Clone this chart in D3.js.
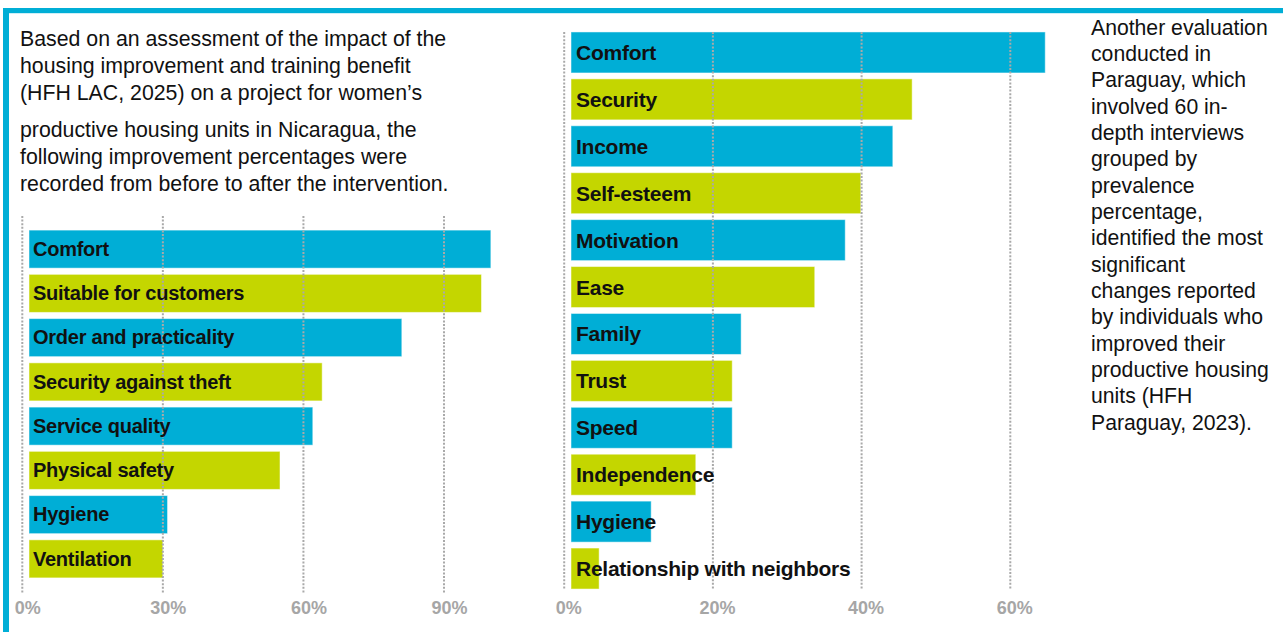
<!DOCTYPE html>
<html>
<head>
<meta charset="utf-8">
<script src="https://cdn.jsdelivr.net/npm/d3@7"></script>
<style>
  html, body { margin: 0; padding: 0; background: #fff; }
  svg { display: block; }
</style>
</head>
<body>
<svg id="chart" width="1283" height="632"></svg>
<script>
// ---------- DATA ----------
const leftCategories = ["Comfort", "Suitable for customers", "Order and practicality", "Security against theft",
  "Service quality", "Physical safety", "Hygiene", "Ventilation"];
const leftValues = [100, 98, 81, 64, 62, 55, 31, 30];
const leftTicks = [0, 30, 60, 90];

const rightCategories = ["Comfort", "Security", "Income", "Self-esteem", "Motivation", "Ease", "Family",
  "Trust", "Speed", "Independence", "Hygiene", "Relationship with neighbors"];
const rightValues = [64.7, 46.8, 44.2, 39.9, 37.8, 33.7, 23.8, 22.6, 22.6, 17.7, 11.7, 4.7];
const rightTicks = [0, 20, 40, 60];

const leftText = [
  "Based on an assessment of the impact of the",
  "housing improvement and training benefit",
  "(HFH LAC, 2025) on a project for women\u2019s",
  "productive housing units in Nicaragua, the",
  "following improvement percentages were",
  "recorded from before to after the intervention."
];
const rightText = [
  "Another evaluation", "conducted in", "Paraguay, which", "involved 60 in-", "depth interviews",
  "grouped by", "prevalence", "percentage,", "identified the most", "significant",
  "changes reported", "by individuals who", "improved their", "productive housing",
  "units (HFH", "Paraguay, 2023)."
];

// ---------- STYLE ----------
const CYAN = "#00aed6", LIME = "#c4d600", GRID = "#a9a9a9", TICK = "#a6a6a6";
const svg = d3.select("#chart");
svg.append("rect").attr("width", 1283).attr("height", 632).attr("fill", "#fff");

// frame
svg.append("rect").attr("x", 3).attr("y", 8).attr("width", 1280).attr("height", 5.2).attr("fill", CYAN);
svg.append("rect").attr("x", 3).attr("y", 8).attr("width", 6).attr("height", 624).attr("fill", CYAN);

// paragraphs
function para(lines, x, y0, lh, size, gapAfter, gapExtra) {
  const t = svg.append("text")
    .attr("font-family", "'Liberation Sans', Arial, sans-serif")
    .attr("font-size", size).attr("fill", "#111");
  lines.forEach((l, i) => {
    let y = y0 + i * lh + (gapAfter != null && i > gapAfter ? gapExtra : 0);
    t.append("tspan").attr("x", x).attr("y", y).text(l);
  });
}
para(leftText, 20, 46, 26.8, 21.3, 2, 10.5);
para(rightText, 1091, 34.5, 26.35, 21.2, null, 0);

function barChart(cfg) {
  const x = d3.scaleLinear().domain(cfg.domain).range(cfg.range);
  const y = d3.scaleBand().domain(cfg.categories).range(cfg.yRange)
    .paddingInner(cfg.padIn).paddingOuter(cfg.padOut);
  const g = svg.append("g");
  const data = cfg.categories.map((c, i) => ({ c, v: cfg.values[i], i }));

  g.selectAll("rect.bar").data(data).enter().append("rect")
    .attr("class", "bar")
    .attr("x", x(0) + cfg.barOffset)
    .attr("y", d => y(d.c))
    .attr("width", d => Math.max(0, x(d.v) - x(0) - cfg.barOffset))
    .attr("height", y.bandwidth())
    .attr("fill", d => d.i % 2 === 0 ? CYAN : LIME)
    .attr("stroke", "#ffffff").attr("stroke-opacity", 0.5).attr("stroke-width", 1);

  // gridlines (on top of bars)
  g.selectAll("line.grid").data(cfg.ticks).enter().append("line")
    .attr("x1", d => x(d)).attr("x2", d => x(d))
    .attr("y1", cfg.gridY[0]).attr("y2", cfg.gridY[1])
    .attr("stroke", GRID).attr("stroke-width", 2).attr("stroke-dasharray", "2,1.6");

  // tick labels via axis
  const axis = d3.axisBottom(x).tickValues(cfg.ticks).tickFormat(d => d + "%").tickSize(0).tickPadding(0);
  const ag = g.append("g").attr("transform", `translate(${cfg.tickDx},${cfg.tickY})`).call(axis);
  ag.select(".domain").remove();
  ag.selectAll("text")
    .attr("font-family", "'Liberation Sans', Arial, sans-serif")
    .attr("font-size", 18).attr("font-weight", "bold").attr("fill", TICK)
    .attr("dy", 0).attr("y", 0);

  // bar labels
  g.selectAll("text.lbl").data(data).enter().append("text")
    .attr("class", "lbl")
    .attr("x", x(0) + cfg.barOffset + cfg.labelDx)
    .attr("y", d => y(d.c) + y.bandwidth() / 2 + cfg.labelDy)
    .attr("font-family", "'Liberation Sans', Arial, sans-serif")
    .attr("font-weight", "bold").attr("font-size", cfg.labelSize)
    .attr("letter-spacing", -0.25).attr("fill", "#111")
    .text(d => d.c);
}

barChart({
  categories: leftCategories, values: leftValues, ticks: leftTicks,
  domain: [0, 90], range: [22.3, 444], yRange: [227, 581], padIn: 0.14, padOut: 0.07,
  barOffset: 6.7, gridY: [216, 593], tickY: 614, tickDx: 5,
  labelDx: 4, labelDy: 6.8, labelSize: 20
});
barChart({
  categories: rightCategories, values: rightValues, ticks: rightTicks,
  domain: [0, 60], range: [564.2, 1010.3], yRange: [29, 592], padIn: 0.126, padOut: 0.063,
  barOffset: 6.8, gridY: [32, 590], tickY: 614, tickDx: 4,
  labelDx: 5, labelDy: 7.5, labelSize: 21
});
</script>
</body>
</html>
